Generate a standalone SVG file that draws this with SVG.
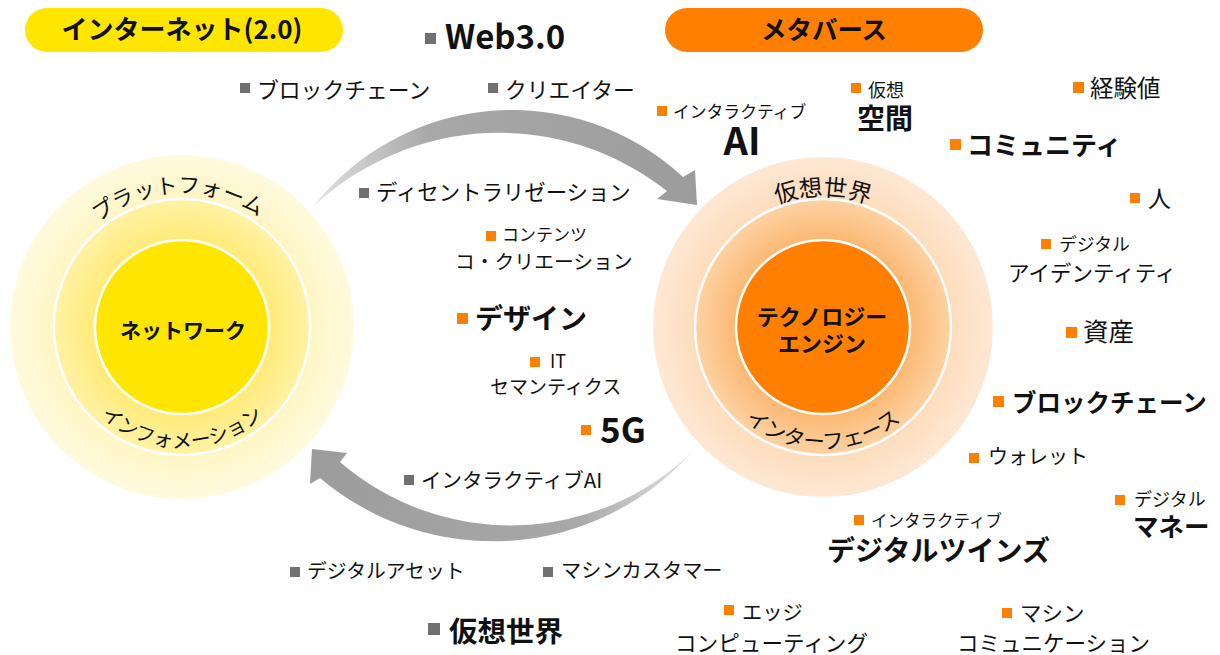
<svg xmlns="http://www.w3.org/2000/svg" width="1220" height="655" viewBox="0 0 1220 655">
<style>
text{font-family:"Noto Sans CJK JP","Noto Sans CJK SC",sans-serif;fill:#111}
.b{font-weight:bold}
.g{fill:#707070}
.o{fill:#FF8000}
.ring{stroke:#fff;stroke-width:2.5}
</style>
<defs>
<radialGradient id="lOut" cx="0.5" cy="0.5" r="0.5">
<stop offset="0.74" stop-color="#FFF5C4"/><stop offset="1" stop-color="#FFFADF"/>
</radialGradient>
<radialGradient id="lMid" cx="0.5" cy="0.5" r="0.5">
<stop offset="0.68" stop-color="#FFEB78"/><stop offset="1" stop-color="#FFF2A6"/>
</radialGradient>
<radialGradient id="rOut" cx="0.5" cy="0.5" r="0.5">
<stop offset="0.74" stop-color="#FDDCBC"/><stop offset="1" stop-color="#FEE8D4"/>
</radialGradient>
<radialGradient id="rMid" cx="0.5" cy="0.5" r="0.5">
<stop offset="0.68" stop-color="#FBB872"/><stop offset="1" stop-color="#FDD2A4"/>
</radialGradient>
<linearGradient id="aTop" x1="313" y1="0" x2="697" y2="0" gradientUnits="userSpaceOnUse">
<stop offset="0" stop-color="#E2E2E2"/><stop offset="0.3" stop-color="#A8A8A8"/><stop offset="1" stop-color="#9C9C9C"/>
</linearGradient>
<linearGradient id="aBot" x1="692" y1="0" x2="310" y2="0" gradientUnits="userSpaceOnUse">
<stop offset="0" stop-color="#E2E2E2"/><stop offset="0.3" stop-color="#A8A8A8"/><stop offset="1" stop-color="#9C9C9C"/>
</linearGradient>
<path id="pLT" d="M48,327 A134,134 0 0 1 316,327"/>
<path id="pLB" d="M61,327 A121,121 0 0 0 303,327"/>
<path id="pRT" d="M692,327 A131,131 0 0 1 954,327"/>
<path id="pRB" d="M701,327 A122,122 0 0 0 945,327"/>
</defs>

<g id="connectors">
<path d="M313,207 A252,252 0 0 1 683,177 L695,170 L697,205 L657,199 L667,191 A271,271 0 0 0 313,207 Z" fill="url(#aTop)"/>
<path d="M692,452 A267,267 0 0 1 320,478 L310,484 L312,449 L347,453 L340,462 A261,261 0 0 0 692,452 Z" fill="url(#aBot)"/>
</g>

<g id="internet-circle">
<circle cx="182" cy="327" r="172" fill="url(#lOut)"/>
<circle cx="182" cy="327" r="128" fill="url(#lMid)" class="ring"/>
<circle cx="182" cy="327" r="87" fill="#FFE600" class="ring"/>
<text font-size="21.5"><textPath href="#pLT" startOffset="49%" text-anchor="middle">プラットフォーム</textPath></text>
<text font-size="20"><textPath href="#pLB" startOffset="50%" text-anchor="middle">インフォメーション</textPath></text>
<text x="183" y="338" font-size="21" class="b" text-anchor="middle">ネットワーク</text>
</g>

<g id="metaverse-circle">
<circle cx="823" cy="327" r="170" fill="url(#rOut)"/>
<circle cx="823" cy="327" r="128" fill="url(#rMid)" class="ring"/>
<circle cx="823" cy="327" r="87" fill="#FF8000" class="ring"/>
<text font-size="23.5"><textPath href="#pRT" startOffset="50%" text-anchor="middle">仮想世界</textPath></text>
<text font-size="21.5"><textPath href="#pRB" startOffset="50%" text-anchor="middle">インターフェース</textPath></text>
<text x="822" y="325" font-size="22" class="b" text-anchor="middle">テクノロジー</text>
<text x="822" y="352" font-size="22" class="b" text-anchor="middle">エンジン</text>
</g>

<g id="pill-internet">
<rect x="25" y="8" width="318" height="44" rx="22" fill="#FFE600"/>
<text x="182" y="39" font-size="26" class="b" text-anchor="middle">インターネット(2.0)</text>
</g>
<g id="pill-metaverse">
<rect x="665" y="8" width="318" height="44" rx="22" fill="#FF8000"/>
<text x="824" y="39" font-size="25.5" class="b" text-anchor="middle">メタバース</text>
</g>

<g id="web3"><rect x="425" y="33" width="11" height="11" class="g"/><text x="445" y="49" font-size="33" class="b">Web3.0</text></g>
<g id="blockchain-grey"><rect x="240" y="83" width="10" height="10" class="g"/><text x="257" y="98" font-size="21.8">ブロックチェーン</text></g>
<g id="creator"><rect x="488" y="83" width="10" height="10" class="g"/><text x="505" y="98" font-size="21.8">クリエイター</text></g>
<g id="decentralization"><rect x="359" y="188" width="10" height="10" class="g"/><text x="376" y="200" font-size="21.4">ディセントラリゼーション</text></g>
<g id="interactive-ai-grey"><rect x="404" y="475" width="10" height="10" class="g"/><text x="421" y="488" font-size="20.5">インタラクティブAI</text></g>
<g id="digital-asset"><rect x="290" y="567" width="10" height="10" class="g"/><text x="307" y="578" font-size="19.8">デジタルアセット</text></g>
<g id="machine-customer"><rect x="543" y="567" width="10" height="10" class="g"/><text x="561" y="578" font-size="20.2">マシンカスタマー</text></g>
<g id="virtual-world"><rect x="428" y="623" width="12" height="12" class="g"/><text x="449" y="642" font-size="28.5" class="b">仮想世界</text></g>

<g id="interactive-ai"><rect x="657" y="106" width="10" height="10" class="o"/><text x="673" y="118" font-size="16.8">インタラクティブ</text><text x="742" y="155" font-size="38" class="b" text-anchor="middle">AI</text></g>
<g id="virtual-space"><rect x="851" y="83" width="10" height="10" class="o"/><text x="868" y="97" font-size="18">仮想</text><text x="857" y="129" font-size="28" class="b">空間</text></g>
<g id="experience"><rect x="1073" y="82" width="11" height="11" class="o"/><text x="1090" y="97" font-size="23.5">経験値</text></g>
<g id="community"><rect x="950" y="139" width="11" height="11" class="o"/><text x="967" y="155" font-size="26" class="b">コミュニティ</text></g>
<g id="person"><rect x="1130" y="193" width="10" height="10" class="o"/><text x="1148" y="207" font-size="23">人</text></g>
<g id="digital-identity"><rect x="1041" y="239" width="10" height="10" class="o"/><text x="1059" y="251" font-size="17.8">デジタル</text><text x="1008" y="281" font-size="21.5">アイデンティティ</text></g>
<g id="asset"><rect x="1066" y="327" width="11" height="11" class="o"/><text x="1083" y="341" font-size="25.5">資産</text></g>
<g id="blockchain"><rect x="993" y="396" width="11" height="11" class="o"/><text x="1012" y="412" font-size="24.5" class="b">ブロックチェーン</text></g>
<g id="wallet"><rect x="969" y="453" width="10" height="10" class="o"/><text x="988" y="464" font-size="20">ウォレット</text></g>
<g id="digital-money"><rect x="1115" y="495" width="10" height="10" class="o"/><text x="1134" y="506" font-size="18">デジタル</text><text x="1133" y="536" font-size="25.5" class="b">マネー</text></g>
<g id="digital-twins"><rect x="854" y="515" width="10" height="10" class="o"/><text x="871" y="527" font-size="16.5">インタラクティブ</text><text x="827" y="561" font-size="28" class="b">デジタルツインズ</text></g>
<g id="edge-computing"><rect x="724" y="605" width="10" height="10" class="o"/><text x="742" y="620" font-size="20.3">エッジ</text><text x="675" y="651" font-size="21.6">コンピューティング</text></g>
<g id="m2m"><rect x="1002" y="608" width="10" height="10" class="o"/><text x="1020" y="621" font-size="21.5">マシン</text><text x="957" y="651" font-size="21.5">コミュニケーション</text></g>
<g id="content-cocreation"><rect x="486" y="231" width="10" height="10" class="o"/><text x="502" y="241" font-size="17">コンテンツ</text><text x="455" y="269" font-size="19.8">コ・クリエーション</text></g>
<g id="design"><rect x="457" y="313" width="11" height="11" class="o"/><text x="475" y="329" font-size="28" class="b">デザイン</text></g>
<g id="it-semantics"><rect x="530" y="357" width="10" height="10" class="o"/><text x="550" y="368" font-size="18">IT</text><text x="490" y="394" font-size="19">セマンティクス</text></g>
<g id="five-g"><rect x="581" y="425" width="10" height="10" class="o"/><text x="600" y="443" font-size="35" class="b">5G</text></g>
</svg>
